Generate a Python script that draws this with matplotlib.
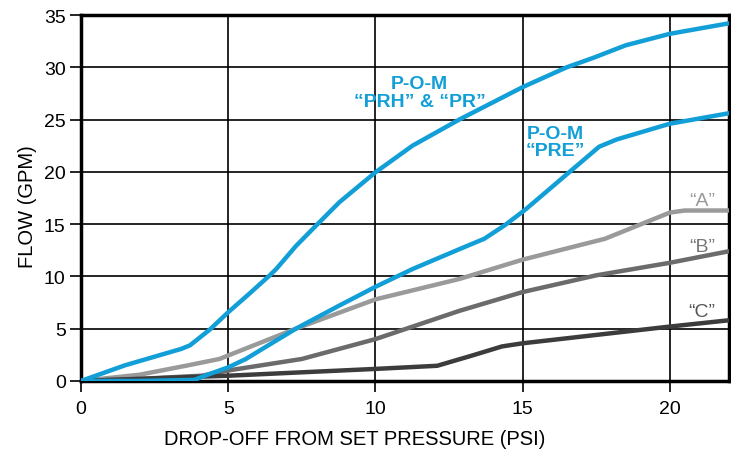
import matplotlib.pyplot as plt

# drop-off (psi) vs flow (gpm)
prh_x = [0, 1.5, 3.4, 3.7, 4.37, 5.0, 5.7, 6.4, 6.63, 7.3, 8.0, 8.78, 10.0, 11.26, 12.85, 15.0, 16.5, 17.4, 18.5, 20.0, 22.0]
prh_y = [0, 1.5, 3.06, 3.4, 4.9, 6.57, 8.3, 10.07, 10.7, 12.9, 14.9, 17.1, 19.95, 22.5, 25.0, 28.1, 30.0, 30.9, 32.1, 33.2, 34.2]

pre_x = [0, 2.0, 3.85, 4.4, 5.0, 5.6, 6.3, 7.3, 8.7, 10.0, 11.26, 12.85, 13.7, 14.4, 15.1, 16.6, 17.6, 18.2, 20.0, 22.0]
pre_y = [0, 0.0, 0.1, 0.7, 1.3, 2.1, 3.3, 5.0, 7.1, 9.0, 10.7, 12.6, 13.6, 14.9, 16.4, 20.0, 22.4, 23.1, 24.6, 25.6]

a_x = [0, 2.0, 3.65, 4.7, 7.3, 10.0, 12.85, 15.0, 17.8, 20.0, 20.5, 22.0]
a_y = [0, 0.6, 1.5, 2.1, 5.0, 7.8, 9.75, 11.6, 13.6, 16.1, 16.3, 16.3]

b_x = [0, 2.0, 4.1, 5.0, 7.5, 10.0, 12.85, 15.0, 17.5, 20.0, 22.0]
b_y = [0, 0.2, 0.5, 1.0, 2.1, 4.0, 6.7, 8.5, 10.1, 11.3, 12.4]

c_x = [0, 2.0, 5.0, 10.0, 12.1, 13.25, 14.3, 15.0, 20.0, 22.0]
c_y = [0, 0.2, 0.5, 1.15, 1.45, 2.4, 3.3, 3.6, 5.2, 5.8]

blue = "#129fd7"
grey_a = "#9a9a9a"
grey_b = "#6b6b6b"
grey_c = "#3c3c3c"

plt.rcParams["font.family"] = ["Liberation Sans", "DejaVu Sans"]

fig = plt.figure(figsize=(7.31, 4.52), dpi=100)
ax = fig.add_axes([0.1108, 0.155, 0.886, 0.8096])

ax.plot(prh_x, prh_y, color=blue, lw=3.2, solid_capstyle="round", zorder=5)
ax.plot(pre_x, pre_y, color=blue, lw=3.2, solid_capstyle="round", zorder=5)
ax.plot(a_x, a_y, color=grey_a, lw=3.2, solid_capstyle="round", zorder=4)
ax.plot(b_x, b_y, color=grey_b, lw=3.2, solid_capstyle="round", zorder=4)
ax.plot(c_x, c_y, color=grey_c, lw=3.2, solid_capstyle="round", zorder=4)

ax.text(11.5, 27.6, "P-O-M\n\u201cPRH\u201d & \u201cPR\u201d", color=blue, fontsize=14,
        fontweight="bold", ha="center", va="center", linespacing=1.05)
ax.text(16.1, 22.9, "P-O-M\n\u201cPRE\u201d", color=blue, fontsize=14,
        fontweight="bold", ha="center", va="center", linespacing=1.0)
ax.text(21.1, 17.3, "\u201cA\u201d", color=grey_a, fontsize=14, ha="center", va="center")
ax.text(21.1, 12.9, "\u201cB\u201d", color="#777777", fontsize=14, ha="center", va="center")
ax.text(21.1, 6.6, "\u201cC\u201d", color="#555555", fontsize=14, ha="center", va="center")

ax.set_xlim(0, 22)
ax.set_ylim(0, 35)
ax.set_xticks([0, 5, 10, 15, 20])
ax.set_yticks([0, 5, 10, 15, 20, 25, 30, 35])
ax.grid(True, color="black", lw=1.2)
ax.set_axisbelow(True)
ax.tick_params(labelsize=14, length=8, width=1.2, color="black", pad=3)
ax.tick_params(axis="x", pad=6)

for s in ["left", "bottom", "top", "right"]:
    ax.spines[s].set_linewidth(2.5)

ax.set_xlabel("DROP-OFF FROM SET PRESSURE (PSI)", fontsize=14.5)
ax.set_ylabel("FLOW (GPM)", fontsize=14.5)
ax.xaxis.set_label_coords(0.423, -0.13)
ax.yaxis.set_label_coords(-0.068, 0.48)

fig.savefig("out.png", dpi=100)
